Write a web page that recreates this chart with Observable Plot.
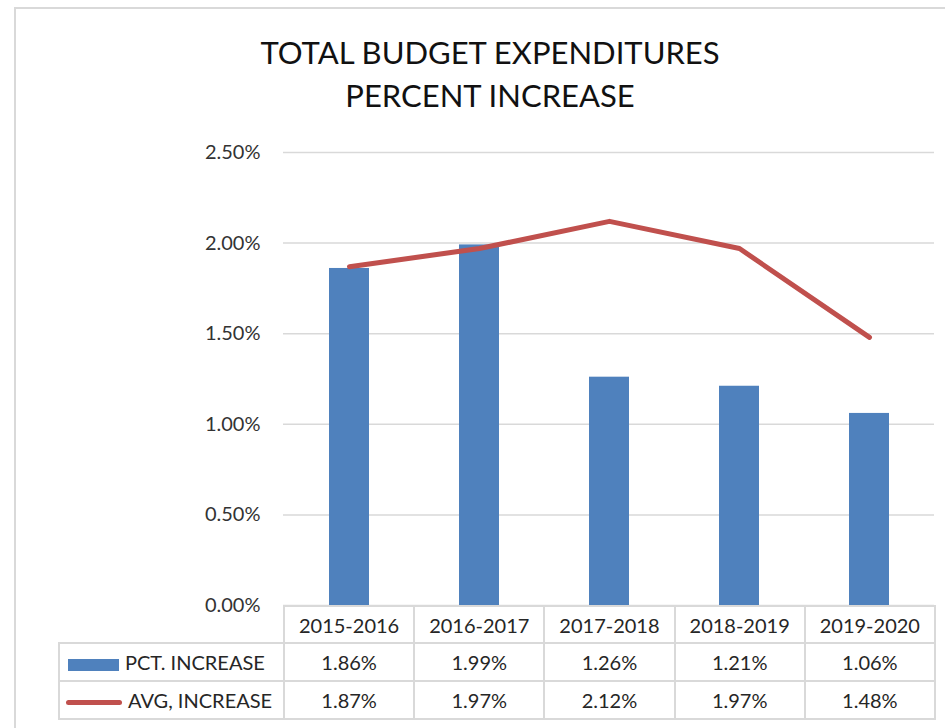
<!DOCTYPE html>
<html>
<head>
<meta charset="utf-8">
<script src="https://cdn.jsdelivr.net/npm/d3@7"></script>
<script src="https://cdn.jsdelivr.net/npm/@observablehq/plot@0.6"></script>
<style>
  html, body { margin: 0; padding: 0; background: #fff; width: 945px; height: 728px; overflow: hidden; }
  body { position: relative; font-family: Lato, "Open Sans", sans-serif; }
  #frame { position: absolute; left: 14px; top: 7px; width: 1000px; height: 800px; border: 2px solid #d9d9d9; box-sizing: border-box; }
  #title { position: absolute; left: 190px; width: 600px; top: 31px; text-align: center; font-size: 31px; line-height: 43px; color: #111; }
  #chart { position: absolute; left: 0; top: 0; }
  #tbl { position: absolute; left: 58px; top: 605px; border-collapse: collapse; table-layout: fixed; font-size: 20px; color: #262626; }
  #tbl td { border: 2px solid #d9d9d9; padding: 0; text-align: center; white-space: nowrap; overflow: hidden; }
  #tbl tr.h td { height: 35px; }
  #tbl tr.r td { height: 36px; }
  #tbl td.blank { border: none; }
  #tbl td.lab { text-align: left; }
  .sw { display: inline-block; vertical-align: middle; margin-right: 6px; }
</style>
</head>
<body>
<div id="frame"></div>
<div id="title">TOTAL BUDGET EXPENDITURES<br>PERCENT INCREASE</div>
<div id="chart"></div>
<table id="tbl"></table>
<script>
const periods = ["2015-2016", "2016-2017", "2017-2018", "2018-2019", "2019-2020"];
const pctIncrease = [1.86, 1.99, 1.26, 1.21, 1.06];
const avgIncrease = [1.87, 1.97, 2.12, 1.97, 1.48];
const yTicks = [0, 0.5, 1.0, 1.5, 2.0, 2.5];
const seriesNames = ["PCT. INCREASE", "AVG, INCREASE"];
const colors = ["#4F81BD", "#C0504D"];

const barData = periods.map((p, i) => ({period: p, value: pctIncrease[i]}));
const lineData = periods.map((p, i) => ({period: p, value: avgIncrease[i]}));
const fmt = d => d.toFixed(2) + "%";

const chart = Plot.plot({
  width: 945,
  height: 610,
  marginTop: 152,
  marginBottom: 5,
  marginLeft: 283,
  marginRight: 11,
  style: {fontFamily: "Lato, 'Open Sans', sans-serif", background: "transparent", overflow: "visible"},
  x: {domain: periods, paddingInner: 0.693, paddingOuter: 0.3465, axis: null},
  y: {domain: [0, 2.5], axis: null},
  marks: [
    Plot.gridY(yTicks, {stroke: "#d9d9d9", strokeOpacity: 1, strokeWidth: 1.5}),
    Plot.axisY(yTicks, {tickSize: 0, tickPadding: 23, tickFormat: fmt, fontSize: 20, fill: "#333", label: null}),
    Plot.barY(barData, {x: "period", y: "value", fill: colors[0]}),
    Plot.lineY(lineData, {x: "period", y: "value", stroke: colors[1], strokeWidth: 5, strokeLinecap: "round", strokeLinejoin: "round"})
  ]
});
document.getElementById("chart").appendChild(chart);

// data table below the plot
const tbl = document.getElementById("tbl");
const colW = 130.2;
let html = '<colgroup><col style="width:225px">' + periods.map(() => `<col style="width:${colW}px">`).join("") + '</colgroup>';
html += '<tr class="h"><td class="blank"></td>' + periods.map(p => `<td>${p}</td>`).join("") + '</tr>';
const swatches = [
  `<span class="sw" style="width:51px;height:12px;background:${colors[0]};margin-left:8px"></span>`,
  `<span class="sw" style="width:56px;height:5px;border-radius:3px;background:${colors[1]};margin-left:6px"></span>`
];
[pctIncrease, avgIncrease].forEach((vals, k) => {
  html += `<tr class="r"><td class="lab">${swatches[k]}${seriesNames[k]}</td>` + vals.map(v => `<td>${fmt(v)}</td>`).join("") + '</tr>';
});
tbl.innerHTML = html;
</script>
</body>
</html>
